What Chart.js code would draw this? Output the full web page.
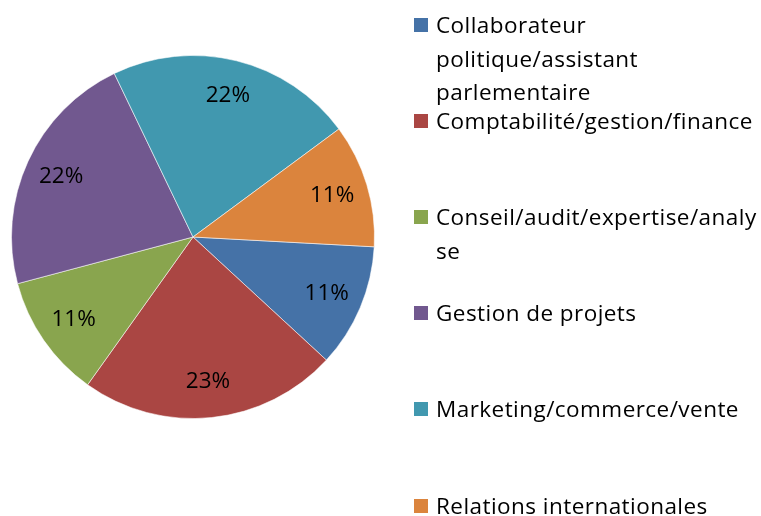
<!DOCTYPE html>
<html>
<head>
<meta charset="utf-8">
<title>Répartition par métier</title>
<script src="https://cdn.jsdelivr.net/npm/chart.js@4/dist/chart.umd.min.js"></script>
<style>
  html, body { margin: 0; padding: 0; background: #fff; }
  #wrap { position: relative; width: 761px; height: 516px; overflow: hidden; }
  #pie { position: absolute; left: 0; top: 0; }
  #legend { position: absolute; left: 0; top: 0; font-family: "Open Sans", sans-serif; font-size: 22.5px; letter-spacing: 0.45px; color: #000; }
  .item { position: absolute; left: 414px; white-space: pre; line-height: 33.5px; }
  .item i { position: absolute; left: 0; width: 14px; height: 14px; }
  .item span { position: absolute; left: 22px; top: 0; }
</style>
</head>
<body>
<div id="wrap">
  <canvas id="pie" width="761" height="516"></canvas>
  <div id="legend"></div>
</div>
<script>
// legend text is kept with the same line breaks as the original
const categories = [
  'Collaborateur\npolitique/assistant\nparlementaire',
  'Comptabilité/gestion/finance',
  'Conseil/audit/expertise/analy\nse',
  'Gestion de projets',
  'Marketing/commerce/vente',
  'Relations internationales'
];
const shares = [11, 23, 11, 22, 22, 11];
const sliceColors = ['#4572A7', '#AA4643', '#89A54E', '#71588F', '#4198AF', '#DB843D'];

const labelFont = '22.5px "Open Sans", sans-serif';

// percentage labels inside the slices
const sliceLabels = {
  id: 'sliceLabels',
  afterDatasetsDraw(chart) {
    const ctx = chart.ctx;
    const meta = chart.getDatasetMeta(0);
    const total = shares.reduce((a, b) => a + b, 0);
    ctx.save();
    ctx.font = labelFont;
    ctx.fillStyle = '#000';
    ctx.textAlign = 'center';
    ctx.textBaseline = 'middle';
    meta.data.forEach((arc, i) => {
      const p = arc.getProps(['x', 'y', 'startAngle', 'endAngle', 'outerRadius'], true);
      const mid = (p.startAngle + p.endAngle) / 2;
      const r = p.outerRadius * 0.8;
      ctx.fillText(Math.round(shares[i] / total * 100) + '%', p.x + Math.cos(mid) * r, p.y + Math.sin(mid) * r);
    });
    ctx.restore();
  }
};

const chart = new Chart(document.getElementById('pie').getContext('2d'), {
  type: 'pie',
  data: {
    labels: categories,
    datasets: [{
      data: shares,
      backgroundColor: sliceColors,
      borderColor: 'rgba(255,255,255,0.55)',
      borderWidth: 1,
      hoverOffset: 0
    }]
  },
  options: {
    responsive: false,
    animation: false,
    rotation: 93.1,
    layout: { padding: { left: 11, top: 55, right: 386, bottom: 97 } },
    plugins: {
      legend: { display: false },
      tooltip: { enabled: false }
    }
  },
  plugins: [sliceLabels]
});

// html legend, entries spread evenly down the right side
const legendEl = document.getElementById('legend');
const items = chart.options.plugins.legend.labels.generateLabels(chart);
items.forEach((it, i) => {
  const center = 25 + i * 96.1;
  const div = document.createElement('div');
  div.className = 'item';
  div.style.top = (center - 17) + 'px';
  const box = document.createElement('i');
  box.style.background = it.fillStyle;
  box.style.top = (17 - 7) + 'px';
  const txt = document.createElement('span');
  txt.textContent = it.text;
  div.appendChild(box);
  div.appendChild(txt);
  legendEl.appendChild(div);
});
</script>
</body>
</html>
